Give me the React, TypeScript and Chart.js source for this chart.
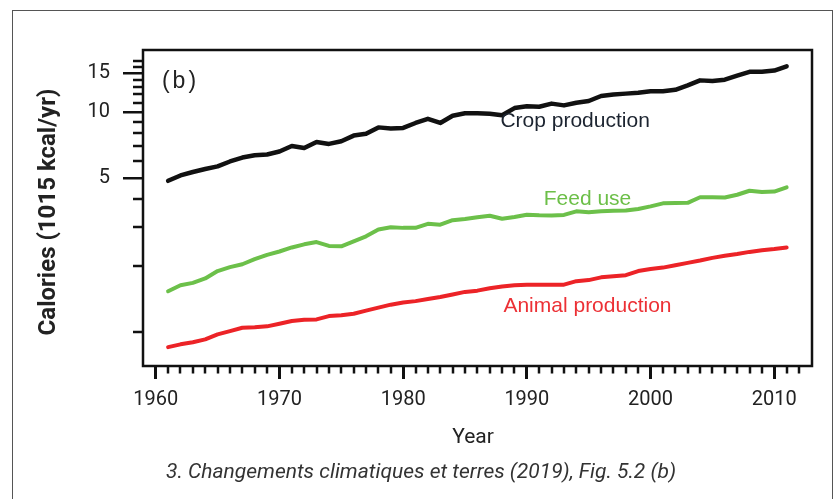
import React, { useEffect, useRef } from 'react';
import { Chart, registerables } from 'chart.js';

Chart.register(...registerables);

const years = [
  1961, 1962, 1963, 1964, 1965, 1966, 1967, 1968, 1969, 1970,
  1971, 1972, 1973, 1974, 1975, 1976, 1977, 1978, 1979, 1980,
  1981, 1982, 1983, 1984, 1985, 1986, 1987, 1988, 1989, 1990,
  1991, 1992, 1993, 1994, 1995, 1996, 1997, 1998, 1999, 2000,
  2001, 2002, 2003, 2004, 2005, 2006, 2007, 2008, 2009, 2010, 2011,
];

const cropProduction = [
  4.86, 5.14, 5.33, 5.5, 5.65, 5.95, 6.2, 6.35, 6.4, 6.6,
  7.0, 6.85, 7.3, 7.15, 7.35, 7.8, 7.95, 8.5, 8.4, 8.45,
  8.9, 9.3, 8.9, 9.6, 9.85, 9.85, 9.8, 9.65, 10.4, 10.6,
  10.55, 10.9, 10.7, 11.0, 11.2, 11.8, 12.0, 12.1, 12.2, 12.4,
  12.4, 12.6, 13.2, 13.9, 13.8, 14.0, 14.6, 15.2, 15.2, 15.4, 16.1,
];

const feedUse = [
  1.53, 1.63, 1.67, 1.75, 1.89, 1.97, 2.03, 2.14, 2.24, 2.32,
  2.42, 2.5, 2.56, 2.46, 2.45, 2.58, 2.72, 2.92, 2.99, 2.97,
  2.97, 3.1, 3.07, 3.22, 3.26, 3.32, 3.37, 3.27, 3.33, 3.41,
  3.39, 3.38, 3.4, 3.53, 3.5, 3.53, 3.55, 3.56, 3.62, 3.72,
  3.84, 3.85, 3.86, 4.09, 4.09, 4.08, 4.2, 4.38, 4.32, 4.34, 4.54,
];

const animalProduction = [
  0.853, 0.878, 0.897, 0.925, 0.974, 1.009, 1.045, 1.05, 1.06, 1.09,
  1.12, 1.137, 1.14, 1.18, 1.19, 1.21, 1.25, 1.29, 1.33, 1.36,
  1.38, 1.41, 1.44, 1.48, 1.52, 1.54, 1.58, 1.61, 1.63, 1.64,
  1.64, 1.64, 1.64, 1.7, 1.72, 1.77, 1.79, 1.81, 1.89, 1.93,
  1.96, 2.01, 2.06, 2.11, 2.17, 2.22, 2.26, 2.31, 2.35, 2.38, 2.42,
];

// labelled (long) ticks
const xMajorTicks = [1960, 1970, 1980, 1990, 2000, 2010];
const yMajorTicks = [5, 10, 15];
// unlabelled (short) ticks
const xMinorTicks = [
  1961, 1962, 1963, 1964, 1965, 1966, 1967, 1968, 1969,
  1971, 1972, 1973, 1974, 1975, 1976, 1977, 1978, 1979,
  1981, 1982, 1983, 1984, 1985, 1986, 1987, 1988, 1989,
  1991, 1992, 1993, 1994, 1995, 1996, 1997, 1998, 1999,
  2001, 2002, 2003, 2004, 2005, 2006, 2007, 2008, 2009,
  2011, 2012,
];
const yMinorTicks = [1, 2, 3, 4, 6, 7, 8, 9, 11, 12, 13, 14, 16, 17];

const seriesLabels = ['Crop production', 'Feed use', 'Animal production'];
const seriesColors = ['#111111', '#6cc04a', '#ec2327'];
const seriesWidths = [4.5, 4, 4];
const labelColors = ['#1c2430', '#6cbf48', '#ec3035'];
// label anchor positions in data units (year, value)
const labelYears = [1993.9, 1994.9, 1994.9];
const labelValues = [9.04, 4.03, 1.31];

const panelTag = '(b)';
const panelTagYear = 1962;
const panelTagValue = 13.7;

const xTitle = 'Year';
const yTitle = 'Calories (1015 kcal/yr)';
const caption = '3. Changements climatiques et terres (2019), Fig. 5.2 (b)';

const X_MIN = 1958.97;
const X_MAX = 2013.05;
const Y_MIN = 0.705;
const Y_MAX = 19.1;

const decorPlugin = {
  id: 'decor',
  afterDraw(chart: any) {
    const { ctx, chartArea: a, scales } = chart;
    const xs = scales.x;
    const ys = scales.y;
    ctx.save();

    // minor tick marks, positioned by the library's scales
    ctx.strokeStyle = '#111';
    ctx.lineWidth = 2.5;
    ctx.lineCap = 'butt';
    ctx.beginPath();
    for (const v of xMinorTicks) {
      const px = Math.round(xs.getPixelForValue(v));
      ctx.moveTo(px, a.bottom);
      ctx.lineTo(px, a.bottom + 7.5);
    }
    for (const v of yMinorTicks) {
      const py = Math.round(ys.getPixelForValue(v));
      ctx.moveTo(a.left, py);
      ctx.lineTo(a.left - 10, py);
    }
    ctx.stroke();

    // plot frame
    ctx.lineWidth = 2.5;
    ctx.strokeRect(a.left, a.top, a.right - a.left, a.bottom - a.top);

    // series labels
    ctx.textAlign = 'center';
    ctx.textBaseline = 'middle';
    ctx.font = '21px "Liberation Sans", Arial, sans-serif';
    for (let i = 0; i < seriesLabels.length; i++) {
      ctx.fillStyle = labelColors[i];
      ctx.fillText(
        seriesLabels[i],
        xs.getPixelForValue(labelYears[i]),
        ys.getPixelForValue(labelValues[i])
      );
    }

    // panel tag
    ctx.fillStyle = '#222';
    ctx.font = '23px "Liberation Sans", Arial, sans-serif';
    (ctx as any).letterSpacing = '3px';
    ctx.fillText(panelTag, xs.getPixelForValue(panelTagYear), ys.getPixelForValue(panelTagValue));
    (ctx as any).letterSpacing = '0px';

    // x title
    ctx.fillStyle = '#222';
    ctx.font = '21px Roboto, sans-serif';
    ctx.fillText(xTitle, 473, 438);

    // caption
    ctx.fillStyle = '#333';
    ctx.font = 'italic 21px Roboto, sans-serif';
    ctx.fillText(caption, 421, 473);

    // y title
    ctx.save();
    ctx.translate(48.5, 212);
    ctx.rotate(-Math.PI / 2);
    ctx.fillStyle = '#222';
    ctx.font = 'bold 24px Roboto, sans-serif';
    ctx.fillText(yTitle, 0, 0);
    ctx.restore();

    ctx.restore();
  },
};

export default function App() {
  const canvasRef = useRef<HTMLCanvasElement | null>(null);

  useEffect(() => {
    const canvas = canvasRef.current;
    if (!canvas) return;
    const mk = (vals: number[]) => years.map((yr, i) => ({ x: yr, y: vals[i] }));
    const tickFont = { family: 'Roboto, sans-serif', size: 20 };
    const chart = new Chart(canvas, {
      type: 'line',
      data: {
        datasets: [cropProduction, feedUse, animalProduction].map((vals, i) => ({
          label: seriesLabels[i],
          data: mk(vals),
          borderColor: seriesColors[i],
          backgroundColor: seriesColors[i],
          borderWidth: seriesWidths[i],
          pointRadius: 0,
          tension: 0,
          fill: false,
          borderJoinStyle: 'round',
          borderCapStyle: 'round',
        })),
      },
      options: {
        responsive: false,
        animation: false,
        events: [],
        layout: { padding: { top: 50, right: 25, left: 0, bottom: 0 } },
        plugins: { legend: { display: false }, tooltip: { enabled: false }, title: { display: false } },
        scales: {
          x: {
            type: 'linear',
            position: 'bottom',
            min: X_MIN,
            max: X_MAX,
            afterBuildTicks: (s: any) => { s.ticks = xMajorTicks.map((v) => ({ value: v })); },
            afterFit: (s: any) => { s.height = 133; },
            ticks: {
              autoSkip: false,
              maxRotation: 0,
              padding: 9,
              color: '#222',
              font: tickFont,
              callback: (v: any) => String(v),
            },
            grid: { drawOnChartArea: false, tickLength: 13, lineWidth: 3, color: '#111' },
            border: { display: false },
          },
          y: {
            type: 'logarithmic',
            position: 'left',
            min: Y_MIN,
            max: Y_MAX,
            afterBuildTicks: (s: any) => { s.ticks = yMajorTicks.map((v) => ({ value: v })); },
            afterFit: (s: any) => { s.width = 143; },
            ticks: {
              autoSkip: false,
              padding: 13,
              color: '#222',
              font: tickFont,
              callback: (v: any) => String(v),
            },
            grid: { drawOnChartArea: false, tickLength: 20, lineWidth: 2.5, color: '#111' },
            border: { display: false },
          },
        },
      } as any,
      plugins: [decorPlugin],
    });
    return () => chart.destroy();
  }, []);

  return (
    <div
      style={{
        position: 'fixed',
        left: 0,
        top: 0,
        width: 837,
        height: 499,
        overflow: 'hidden',
        background: '#fff',
      }}
    >
      <div
        style={{
          position: 'absolute',
          left: 12,
          top: 10,
          width: 821,
          height: 600,
          border: '1.5px solid #555',
          boxSizing: 'border-box',
        }}
      />
      <canvas
        ref={canvasRef}
        width={837}
        height={499}
        style={{ position: 'absolute', left: 0, top: 0, width: 837, height: 499 }}
      />
    </div>
  );
}
